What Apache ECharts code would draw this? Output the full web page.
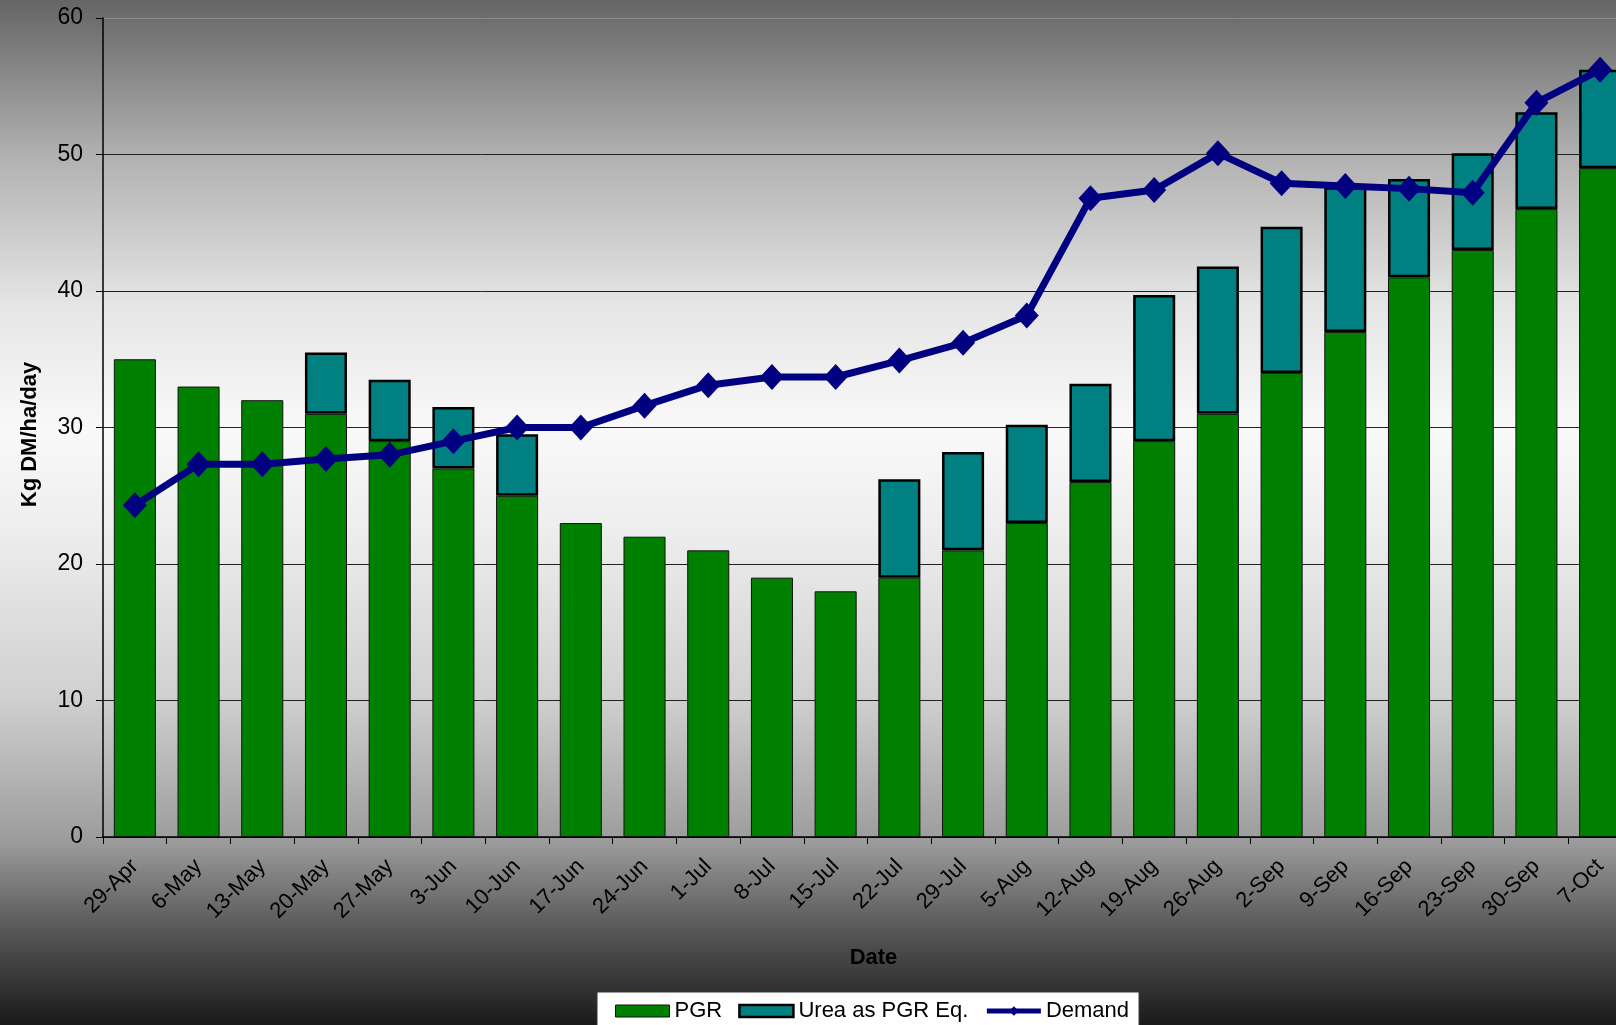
<!DOCTYPE html>
<html>
<head>
<meta charset="utf-8">
<title>PGR vs Demand</title>
<script src="https://cdn.jsdelivr.net/npm/echarts@6/dist/echarts.min.js"></script>
<style>
    html, body { margin: 0; padding: 0; }
    #chart { width: 1616px; height: 1025px; }
</style>
</head>
<body>
<div id="chart"></div>
<script>
// ==========================================================================
// Data: weekly pasture growth rate, urea boost and feed demand
// ==========================================================================

var dates = ['29-Apr', '6-May', '13-May', '20-May', '27-May', '3-Jun', '10-Jun', '17-Jun',
    '24-Jun', '1-Jul', '8-Jul', '15-Jul', '22-Jul', '29-Jul', '5-Aug', '12-Aug',
    '19-Aug', '26-Aug', '2-Sep', '9-Sep', '16-Sep', '23-Sep', '30-Sep', '7-Oct'];

// Kg DM/ha/day
var pgr = [35, 33, 32, 31, 29, 27, 25, 23, 22, 21, 19, 18, 19, 21, 23, 26, 29, 31, 34, 37, 41, 43, 46, 49];

// extra growth from urea, stacked on top of PGR (null = none that week)
var urea = [null, null, null, 4.5, 4.5, 4.5, 4.5, null, null, null, null, null,
    7.2, 7.2, 7.2, 7.2, 10.7, 10.8, 10.7, 10.6, 7.2, 7.1, 7.1, 7.2];

var demand = [24.3, 27.3, 27.3, 27.7, 28.0, 29.0, 30.0, 30.0, 31.6, 33.1, 33.7, 33.7,
    34.9, 36.2, 38.2, 46.8, 47.4, 50.1, 47.9, 47.7, 47.5, 47.2, 53.8, 56.2];

var yTicks = [0, 10, 20, 30, 40, 50, 60];

// ==========================================================================
// Chart
// ==========================================================================

var chart = echarts.init(document.getElementById('chart'));
var fontFamily = '"Liberation Sans", Arial, sans-serif';

chart.setOption({
    animation: false,
    backgroundColor: new echarts.graphic.LinearGradient(0, 0, 0, 1, [
        { offset: 0, color: '#656565' },
        { offset: 0.15, color: '#b0b0b0' },
        { offset: 0.3, color: '#e6e6e6' },
        { offset: 0.42, color: '#f9f9f9' },
        { offset: 0.52, color: '#ededed' },
        { offset: 0.68, color: '#d0d0d0' },
        { offset: 0.82, color: '#9c9c9c' },
        { offset: 0.91, color: '#555555' },
        { offset: 1, color: '#1a1a1a' }
    ]),
    textStyle: { fontFamily: fontFamily },
    grid: {
        left: 103,
        top: 18,
        width: 1529,
        height: 819,
        containLabel: false,
        outerBoundsMode: 'none'
    },
    legend: {
        left: 597,
        top: 992,
        backgroundColor: '#ffffff',
        borderColor: '#333',
        borderWidth: 1,
        padding: [8, 10, 14, 18],
        itemWidth: 54,
        itemHeight: 12,
        itemGap: 16,
        textStyle: { fontSize: 22, color: '#000', fontFamily: fontFamily },
        data: [
            { name: 'PGR', icon: 'rect', itemStyle: { color: '#008000', borderColor: '#111', borderWidth: 1 } },
            { name: 'Urea as PGR Eq.', icon: 'rect', itemStyle: { color: '#008080', borderColor: '#000', borderWidth: 2.5 } },
            { name: 'Demand', lineStyle: { width: 5 } }
        ]
    },
    xAxis: {
        type: 'category',
        data: dates,
        name: 'Date',
        nameLocation: 'middle',
        nameGap: 110,
        nameTextStyle: { fontSize: 22, fontWeight: 'bold', color: '#000', padding: [0, 0, 0, 12] },
        axisLine: { lineStyle: { color: '#000', width: 1.5 } },
        axisTick: { show: true, length: 7, lineStyle: { color: '#000' } },
        axisLabel: {
            rotate: 45,
            interval: 0,
            margin: 26,
            fontSize: 22,
            color: '#000'
        }
    },
    yAxis: {
        type: 'value',
        min: yTicks[0],
        max: yTicks[yTicks.length - 1],
        interval: 10,
        name: 'Kg DM/ha/day',
        nameLocation: 'middle',
        nameGap: 62,
        nameTextStyle: { fontSize: 22, fontWeight: 'bold', color: '#000', padding: [0, 14, 0, 0] },
        axisLine: { show: true, lineStyle: { color: '#000', width: 1.5 } },
        axisTick: { show: true, length: 7, lineStyle: { color: '#000' } },
        axisLabel: { fontSize: 23, color: '#000', margin: 20 },
        splitLine: {
            show: true,
            lineStyle: {
                width: 1,
                // top line (60) is a lighter plot border
                color: ['#222', '#222', '#222', '#222', '#222', '#222', '#8a8a8a']
            }
        }
    },
    series: [
        {
            name: 'PGR',
            type: 'bar',
            stack: 'growth',
            barWidth: '66%',
            data: pgr,
            itemStyle: { color: '#008000', borderColor: '#111', borderWidth: 1 },
            z: 2
        },
        {
            name: 'Urea as PGR Eq.',
            type: 'bar',
            stack: 'growth',
            barWidth: '66%',
            data: urea,
            itemStyle: { color: '#008080', borderColor: '#000', borderWidth: 2.5 },
            z: 3
        },
        {
            name: 'Demand',
            type: 'line',
            data: demand,
            symbol: 'diamond',
            symbolSize: [24, 26],
            lineStyle: { color: '#000080', width: 7 },
            itemStyle: { color: '#000080' },
            z: 5
        }
    ]
});
</script>
</body>
</html>
